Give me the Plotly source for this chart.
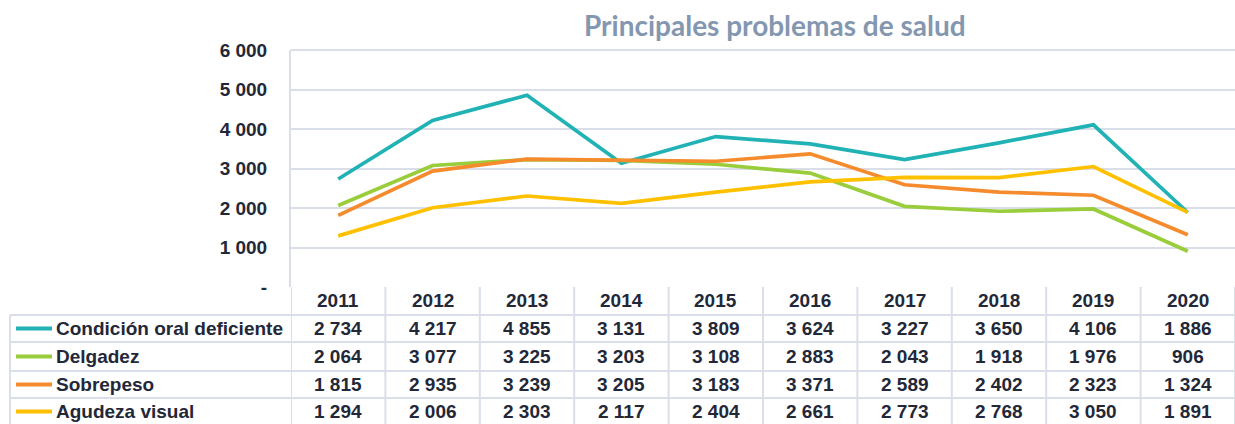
import plotly.graph_objects as go

years = ["2011", "2012", "2013", "2014", "2015", "2016", "2017", "2018", "2019", "2020"]
series_names = ["Condición oral deficiente", "Delgadez", "Sobrepeso", "Agudeza visual"]
oral = [2734, 4217, 4855, 3131, 3809, 3624, 3227, 3650, 4106, 1886]
delgadez = [2064, 3077, 3225, 3203, 3108, 2883, 2043, 1918, 1976, 906]
sobrepeso = [1815, 2935, 3239, 3205, 3183, 3371, 2589, 2402, 2323, 1324]
agudeza = [1294, 2006, 2303, 2117, 2404, 2661, 2773, 2768, 3050, 1891]
y_ticks = [0, 1000, 2000, 3000, 4000, 5000, 6000]
y_ticklabels = ["-", "1 000", "2 000", "3 000", "4 000", "5 000", "6 000"]

colors = ["#20B2B4", "#9ACD3C", "#F58B2C", "#FFC000"]
values = [oral, delgadez, sobrepeso, agudeza]

W, H = 1235, 424
def py(p):
    return 1 - p / H
def px(p):
    return p / W

def fmt(v):
    return f"{v:,}".replace(",", " ")

FONT = "Liberation Sans, Arial, sans-serif"
TXT = "#232838"
GRID = "#D9DEE8"
TS = 19

fig = go.Figure()
idx = list(range(len(years)))
for name, vals, c in zip(series_names, values, colors):
    fig.add_trace(go.Scatter(x=idx, y=vals, mode="lines", name=name,
                             line=dict(color=c, width=3.7), showlegend=False))

plot_top, plot_bot, plot_left = 50, 287, 291
row_lines = [315, 342, 371, 398]
row_centers = [328.5, 356.5, 384.5, 411.5]
header_y = 300

shapes = []
for i in range(len(years) + 1):
    shapes.append(dict(type="line", xref="x", yref="paper", x0=i - 0.5, x1=i - 0.5,
                       y0=py(plot_bot), y1=py(H + 2), line=dict(color=GRID, width=2)))
shapes.append(dict(type="line", xref="paper", yref="paper", x0=px(10), x1=px(10),
                   y0=py(row_lines[0]), y1=py(H + 2), line=dict(color=GRID, width=2)))
for r in row_lines:
    shapes.append(dict(type="line", xref="paper", yref="paper", x0=px(10), x1=1,
                       y0=py(r), y1=py(r), line=dict(color=GRID, width=2)))
shapes.append(dict(type="line", xref="paper", yref="paper", x0=px(plot_left), x1=1,
                   y0=py(plot_top), y1=py(plot_top), line=dict(color=GRID, width=2)))

annotations = []
annotations.append(dict(text="<b>Principales problemas de salud</b>", xref="paper", yref="paper",
                        x=px(775), y=py(25), showarrow=False, xanchor="center", yanchor="middle",
                        font=dict(family="Lato, sans-serif", size=28, color="#8497B0")))
for i, yr in enumerate(years):
    annotations.append(dict(text=f"<b>{yr}</b>", xref="x", yref="paper", x=i, y=py(header_y),
                            showarrow=False, xanchor="center", yanchor="middle",
                            font=dict(family=FONT, size=TS, color=TXT)))
for r, (name, vals, c) in enumerate(zip(series_names, values, colors)):
    yc = row_centers[r]
    shapes.append(dict(type="line", xref="paper", yref="paper", x0=px(16), x1=px(52),
                       y0=py(yc), y1=py(yc), line=dict(color=c, width=4)))
    annotations.append(dict(text=f"<b>{name}</b>", xref="paper", yref="paper", x=px(54), y=py(yc),
                            showarrow=False, xanchor="left", yanchor="middle",
                            font=dict(family=FONT, size=TS, color=TXT)))
    for i, v in enumerate(vals):
        annotations.append(dict(text=f"<b>{fmt(v)}</b>", xref="x", yref="paper", x=i, y=py(yc),
                                showarrow=False, xanchor="center", yanchor="middle",
                                font=dict(family=FONT, size=TS, color=TXT)))

fig.update_layout(
    width=W, height=H,
    margin=dict(l=0, r=0, t=0, b=0, autoexpand=False),
    paper_bgcolor="white", plot_bgcolor="white",
    xaxis=dict(domain=[px(plot_left), 1], range=[-0.5, len(years) - 0.5],
               showticklabels=False, showgrid=False, zeroline=False,
               showline=False, fixedrange=True, automargin=False),
    yaxis=dict(domain=[py(plot_bot), py(plot_top)], range=[0, 6000],
               tickvals=y_ticks, ticktext=[f"<b>{t}</b>" for t in y_ticklabels],
               showgrid=True, gridcolor=GRID, gridwidth=2, zeroline=False,
               showline=True, linecolor=GRID, linewidth=2,
               tickfont=dict(family=FONT, size=19, color=TXT),
               ticklabelstandoff=18, ticks="", fixedrange=True, automargin=False),
    shapes=shapes, annotations=annotations,
)

fig.write_html("out.html", config={"displayModeBar": False, "responsive": False},
               post_script="document.body.style.margin='0';document.body.style.overflow='hidden';")
